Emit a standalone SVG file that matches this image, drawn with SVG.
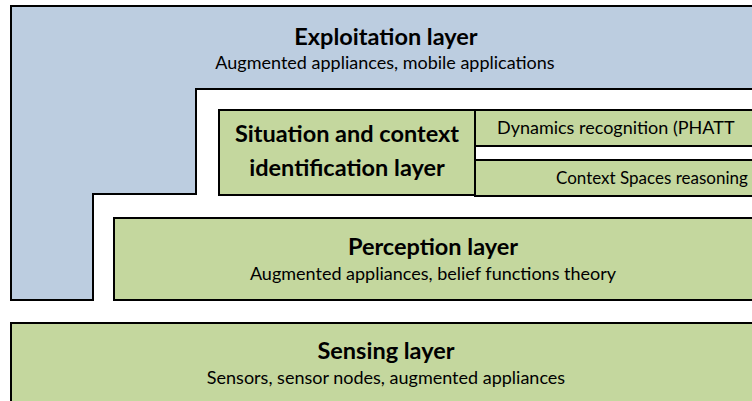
<svg xmlns="http://www.w3.org/2000/svg" width="752" height="401" viewBox="0 0 752 401">
<style>
.blue{fill:#bccde0;stroke:#000;stroke-width:2}
.green{fill:#c4d79e;stroke:#000;stroke-width:2}
.t{font-family:Lato,"Open Sans","Liberation Sans",sans-serif;font-weight:bold;font-size:23.5px;fill:#000;text-anchor:middle}
.s{font-family:Lato,"Open Sans","Liberation Sans",sans-serif;font-size:18px;fill:#000;text-anchor:middle}
.r{font-family:Lato,"Open Sans","Liberation Sans",sans-serif;font-size:18px;fill:#000}
</style>
<rect width="752" height="401" fill="#fff"/>
<g id="exploitation">
<path class="blue" d="M11,6 H770 V89 H196 V194 H93 V300 H11 Z"/>
<text class="t" x="386" y="45">Exploitation layer</text>
<text class="s" x="385" y="69">Augmented appliances, mobile applications</text>
</g>
<g id="situation">
<rect class="green" x="219" y="110" width="256" height="85"/>
<text class="t" x="347" y="142">Situation and context</text>
<text class="t" x="347" y="176">identification layer</text>
</g>
<g id="dynamics">
<rect class="green" x="475" y="110" width="300" height="36"/>
<text class="r" x="497" y="134">Dynamics recognition (PHATT</text>
</g>
<g id="contextspaces">
<rect class="green" x="475" y="160" width="300" height="36"/>
<text class="r" x="556" y="184" style="font-size:17px">Context Spaces reasoning</text>
</g>
<g id="perception">
<rect class="green" x="114" y="218" width="660" height="82"/>
<text class="t" x="433" y="255">Perception layer</text>
<text class="s" x="433" y="280">Augmented appliances, belief functions theory</text>
</g>
<g id="sensing">
<rect class="green" x="11" y="323" width="760" height="100"/>
<text class="t" x="386" y="359">Sensing layer</text>
<text class="s" x="386" y="384">Sensors, sensor nodes, augmented appliances</text>
</g>
<g id="connectors"></g>
</svg>
